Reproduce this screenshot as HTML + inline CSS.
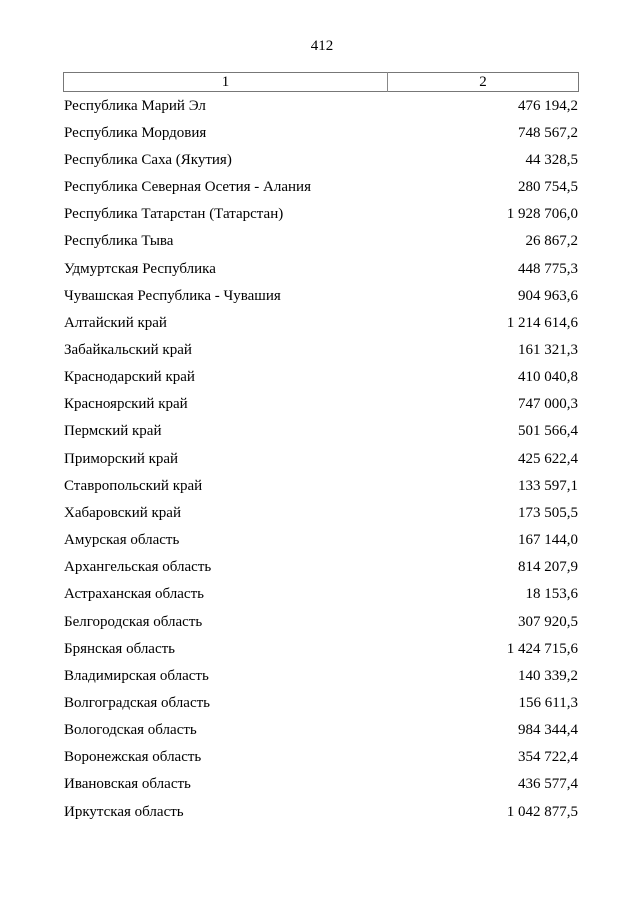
<!DOCTYPE html>
<html>
<head>
<meta charset="utf-8">
<style>
  html, body { margin:0; padding:0; background:#fff; }
  body { width:640px; height:905px; position:relative; overflow:hidden;
         font-family:"Liberation Serif", "Noto Serif CJK SC", serif; font-size:15px; color:#000; }
  .pn { position:absolute; left:300px; width:44px; top:38px; text-align:center; line-height:17px; }
  .box { position:absolute; left:63px; top:72px; width:514px; height:18px; border:1px solid #777; }
  .div { position:absolute; left:387px; top:72px; width:1px; height:20px; background:#888; }
  .h { position:absolute; top:74px; line-height:17px; text-align:center; }
  .r { position:absolute; left:64px; width:514px; line-height:17px; height:17px; }
  .r .n { position:absolute; left:0; white-space:nowrap; }
  .r .v { position:absolute; right:0; white-space:nowrap; }
</style>
</head>
<body>
<div class="pn">412</div>
<div class="box"></div>
<div class="div"></div>
<div class="h" style="left:64px;width:323px;">1</div>
<div class="h" style="left:388px;width:190px;">2</div>

<div class="r" style="top:97.6px"><span class="n">Республика Марий Эл</span><span class="v">476 194,2</span></div>
<div class="r" style="top:124.8px"><span class="n">Республика Мордовия</span><span class="v">748 567,2</span></div>
<div class="r" style="top:151.9px"><span class="n">Республика Саха (Якутия)</span><span class="v">44 328,5</span></div>
<div class="r" style="top:179.1px"><span class="n">Республика Северная Осетия - Алания</span><span class="v">280 754,5</span></div>
<div class="r" style="top:206.2px"><span class="n">Республика Татарстан (Татарстан)</span><span class="v">1 928 706,0</span></div>
<div class="r" style="top:233.4px"><span class="n">Республика Тыва</span><span class="v">26 867,2</span></div>
<div class="r" style="top:260.5px"><span class="n">Удмуртская Республика</span><span class="v">448 775,3</span></div>
<div class="r" style="top:287.7px"><span class="n">Чувашская Республика - Чувашия</span><span class="v">904 963,6</span></div>
<div class="r" style="top:314.8px"><span class="n">Алтайский край</span><span class="v">1 214 614,6</span></div>
<div class="r" style="top:342.0px"><span class="n">Забайкальский край</span><span class="v">161 321,3</span></div>
<div class="r" style="top:369.1px"><span class="n">Краснодарский край</span><span class="v">410 040,8</span></div>
<div class="r" style="top:396.3px"><span class="n">Красноярский край</span><span class="v">747 000,3</span></div>
<div class="r" style="top:423.4px"><span class="n">Пермский край</span><span class="v">501 566,4</span></div>
<div class="r" style="top:450.6px"><span class="n">Приморский край</span><span class="v">425 622,4</span></div>
<div class="r" style="top:477.7px"><span class="n">Ставропольский край</span><span class="v">133 597,1</span></div>
<div class="r" style="top:504.9px"><span class="n">Хабаровский край</span><span class="v">173 505,5</span></div>
<div class="r" style="top:532.0px"><span class="n">Амурская область</span><span class="v">167 144,0</span></div>
<div class="r" style="top:559.2px"><span class="n">Архангельская область</span><span class="v">814 207,9</span></div>
<div class="r" style="top:586.3px"><span class="n">Астраханская область</span><span class="v">18 153,6</span></div>
<div class="r" style="top:613.5px"><span class="n">Белгородская область</span><span class="v">307 920,5</span></div>
<div class="r" style="top:640.6px"><span class="n">Брянская область</span><span class="v">1 424 715,6</span></div>
<div class="r" style="top:667.8px"><span class="n">Владимирская область</span><span class="v">140 339,2</span></div>
<div class="r" style="top:694.9px"><span class="n">Волгоградская область</span><span class="v">156 611,3</span></div>
<div class="r" style="top:722.1px"><span class="n">Вологодская область</span><span class="v">984 344,4</span></div>
<div class="r" style="top:749.2px"><span class="n">Воронежская область</span><span class="v">354 722,4</span></div>
<div class="r" style="top:776.4px"><span class="n">Ивановская область</span><span class="v">436 577,4</span></div>
<div class="r" style="top:803.5px"><span class="n">Иркутская область</span><span class="v">1 042 877,5</span></div>
</body>
</html>
